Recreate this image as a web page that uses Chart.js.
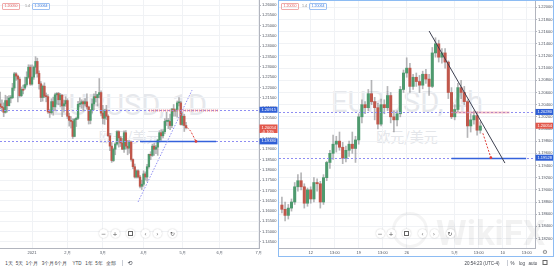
<!doctype html>
<html lang="zh">
<head>
  <meta charset="utf-8">
  <title>EURUSD 欧元/美元</title>
  <script src="https://cdn.jsdelivr.net/npm/chart.js"></script>
  <style>
    body { margin: 0; background: #fff; font-family: "Liberation Sans", Arial, sans-serif; }
    #root { position: relative; width: 554px; height: 270px; overflow: hidden; background: #fff; }
    #root > * { position: absolute; }
    canvas { z-index: 1; }
    .wm { z-index: 0; font-family: Roboto, sans-serif; font-size: 29px; line-height: 29px; color: #e6e8ec; text-align: center; white-space: nowrap; }
    .wm2 { z-index: 0; font-family: "Noto Sans CJK SC", sans-serif; font-size: 14px; line-height: 14px; color: #e4e6ea; text-align: center; white-space: nowrap; }
    .tag { z-index: 2; height: 5px; line-height: 5px; font-size: 3.6px; padding: 0 1.5px; border-radius: 1px; }
    .tag.sell { color: #e05a5a; border: 0.6px solid #f0aaaa; }
    .tag.buy { color: #3a7be0; border: 0.6px solid #9cc0f2; }
    .spread { z-index: 2; font-size: 3.6px; color: #888; line-height: 6px; }
    .btn { z-index: 3; width: 9px; height: 9px; border-radius: 50%; background: #fff; box-shadow: 0 0 1.5px rgba(0,0,0,0.25); color: #555; font-size: 6px; line-height: 9px; text-align: center; font-family: "DejaVu Sans", sans-serif; }
    .sq { display: inline-block; width: 3px; height: 3px; border: 0.6px dashed #666; vertical-align: middle; margin-top: -1px; }
    .tb { z-index: 2; font-size: 4.5px; line-height: 5px; color: #3b3f48; transform: translateX(-50%); white-space: nowrap; }
    .sep { z-index: 2; width: 0.6px; height: 6px; background: #c8ccd4; }
    #pane { z-index: 3; border: 1px solid #8dbcf3; box-sizing: border-box; pointer-events: none; }
    #wfx { z-index: 2; font-family: Roboto, sans-serif; font-weight: 700; font-size: 35px; line-height: 35px; color: rgba(0,0,0,0.05); }
    #wfxlogo { z-index: 2; width: 36px; height: 36px; border-radius: 50%; border: 3px solid rgba(0,0,0,0.045); box-sizing: border-box; }
  </style>
</head>
<body>
<div id="root">
  <div class="wm" style="left:0;top:91px;width:259px">EURUSD, 1D</div>
  <div class="wm2" style="left:0;top:129px;width:259px">欧元/美元</div>
  <div class="wm" style="left:279px;top:88px;width:256px">EURUSD, 4h</div>
  <div class="wm2" style="left:279px;top:129px;width:256px">欧元/美元</div>

  <canvas id="leftChart" width="278" height="260" style="left:0;top:0"></canvas>
  <canvas id="rightChart" width="275" height="260" style="left:279px;top:0"></canvas>

  <div id="wfxlogo" style="left:392px;top:212px"></div>
  <div id="wfx" style="left:436px;top:216px">WikiFX</div>

  <!-- sell / buy tags -->
  <div class="tag sell" style="left:2px;top:3px">1.20050</div>
  <div class="spread" style="left:25px;top:2.5px">1.4</div>
  <div class="tag buy" style="left:32px;top:3px">1.20064</div>
  <div class="tag sell" style="left:281px;top:3px">1.20050</div>
  <div class="spread" style="left:302px;top:2.5px">1.4</div>
  <div class="tag buy" style="left:309px;top:3px">1.20064</div>

  <!-- chart nav buttons -->
  <div class="btn" style="left:99px;top:228.5px">−</div>
  <div class="btn" style="left:110.5px;top:228.5px">+</div>
  <div class="btn" style="left:126px;top:228.5px"><span class="sq"></span></div>
  <div class="btn" style="left:141px;top:228.5px">‹</div>
  <div class="btn" style="left:153px;top:228.5px">›</div>
  <div class="btn" style="left:168px;top:228.5px">↻</div>
  <div class="btn" style="left:375.5px;top:228.5px">−</div>
  <div class="btn" style="left:386.5px;top:228.5px">+</div>
  <div class="btn" style="left:402px;top:228.5px"><span class="sq"></span></div>
  <div class="btn" style="left:418px;top:228.5px">‹</div>
  <div class="btn" style="left:429.5px;top:228.5px">›</div>
  <div class="btn" style="left:445.5px;top:228.5px">↻</div>

  <div id="pane" style="left:278px;top:0;width:276px;height:257px"></div>
  <div class="tb" style="left:545px;top:248.5px;color:#777;font-family:'DejaVu Sans';font-size:6px;line-height:6px">⚙</div>

  <!-- bottom toolbar -->
  <div class="tb" style="left:9px;top:260.5px">1天</div>
  <div class="tb" style="left:19.5px;top:260.5px">5天</div>
  <div class="tb" style="left:32px;top:260.5px">1个月</div>
  <div class="tb" style="left:48px;top:260.5px">3个月</div>
  <div class="tb" style="left:61px;top:260.5px">6个月</div>
  <div class="tb" style="left:77px;top:260.5px">YTD</div>
  <div class="tb" style="left:89px;top:260.5px">1年</div>
  <div class="tb" style="left:99px;top:260.5px">5年</div>
  <div class="tb" style="left:111px;top:260.5px">全部</div>
  <div class="sep" style="left:122px;top:260px"></div>
  <div class="tb" style="left:130px;top:259.5px;font-family:'DejaVu Sans';font-size:6px;line-height:6px">⟲</div>
  <div class="tb" style="left:482px;top:260.5px">20:54:23 (UTC-4)</div>
  <div class="sep" style="left:507px;top:260px"></div>
  <div class="tb" style="left:512.5px;top:260.5px">%</div>
  <div class="tb" style="left:522px;top:260.5px">log</div>
  <div class="tb" style="left:533px;top:260.5px">auto</div>
  <div class="tb" style="left:545px;top:260.5px"><span class="sq" style="border-style:solid"></span></div>
</div>

<script>
// ---- left pane: EURUSD daily, 2020-12-07 .. 2021-05-05 (one candle per trading day)
const leftOpen = [
  1.2120, 1.2107, 1.2102, 1.2079, 1.2136, 1.2111, 1.2148, 1.2150, 1.2197, 1.2266, 1.2255, 1.2240, 1.2160, 1.2190, 1.2197, 1.2214, 1.2249, 1.2298,
  1.2216, 1.2250, 1.2298, 1.2326, 1.2268, 1.2218, 1.2151, 1.2206, 1.2157, 1.2155, 1.2081, 1.2077, 1.2131, 1.2106, 1.2164, 1.2170, 1.2140, 1.2162, 1.2110, 1.2120,
  1.2136, 1.2060, 1.2040, 1.2035, 1.1962, 1.2044, 1.2050, 1.2118, 1.2120, 1.2130, 1.2120, 1.2130, 1.2105, 1.2040, 1.2090, 1.2120, 1.2155, 1.2150, 1.2165, 1.2175,
  1.2075, 1.2050, 1.2090, 1.2060, 1.1965, 1.1915, 1.1845, 1.1900, 1.1925, 1.1985, 1.1955, 1.1930, 1.1900, 1.1980, 1.1915, 1.1905, 1.1935, 1.1850, 1.1815, 1.1765, 1.1795, 1.1765, 1.1720,
  1.1730, 1.1780, 1.1765, 1.1815, 1.1875, 1.1870, 1.1915, 1.1900, 1.1910, 1.1945, 1.1980, 1.1965, 1.1985, 1.2035, 1.2035, 1.2035, 1.2015, 1.2095, 1.2085, 1.2090, 1.2125, 1.2125,
  1.2020, 1.2060, 1.2015
];
const leftHigh = [
  1.2177, 1.2140, 1.2125, 1.2162, 1.2156, 1.2160, 1.2161, 1.2220, 1.2273, 1.2272, 1.2260, 1.2250, 1.2202, 1.2211, 1.2250, 1.2276, 1.2310, 1.2309,
  1.2310, 1.2304, 1.2349, 1.2342, 1.2280, 1.2228, 1.2212, 1.2222, 1.2173, 1.2165, 1.2093, 1.2145, 1.2153, 1.2172, 1.2175, 1.2176, 1.2171, 1.2165, 1.2139, 1.2155,
  1.2145, 1.2075, 1.2058, 1.2048, 1.2050, 1.2056, 1.2133, 1.2149, 1.2140, 1.2135, 1.2146, 1.2169, 1.2109, 1.2093, 1.2144, 1.2169, 1.2181, 1.2167, 1.2243, 1.2183,
  1.2113, 1.2093, 1.2113, 1.2067, 1.1977, 1.1932, 1.1906, 1.1931, 1.1990, 1.1990, 1.1963, 1.1952, 1.1989, 1.1990, 1.1943, 1.1943, 1.1940, 1.1853, 1.1828, 1.1800, 1.1800, 1.1773, 1.1750,
  1.1795, 1.1790, 1.1826, 1.1876, 1.1888, 1.1925, 1.1928, 1.1920, 1.1947, 1.1990, 1.1995, 1.1995, 1.2048, 1.2080, 1.2049, 1.2070, 1.2097, 1.2117, 1.2095, 1.2134, 1.2150, 1.2132,
  1.2080, 1.2070, 1.2030
];
const leftLow = [
  1.2095, 1.2083, 1.2058, 1.2075, 1.2080, 1.2110, 1.2125, 1.2145, 1.2185, 1.2234, 1.2130, 1.2153, 1.2155, 1.2168, 1.2190, 1.2206, 1.2244, 1.2210,
  1.2211, 1.2239, 1.2265, 1.2250, 1.2192, 1.2131, 1.2133, 1.2150, 1.2130, 1.2074, 1.2054, 1.2070, 1.2065, 1.2087, 1.2118, 1.2116, 1.2105, 1.2058, 1.2080, 1.2108,
  1.2048, 1.2012, 1.2003, 1.1952, 1.1960, 1.2010, 1.2045, 1.2105, 1.2099, 1.2085, 1.2110, 1.2094, 1.2022, 1.2023, 1.2075, 1.2091, 1.2129, 1.2110, 1.2149, 1.2062,
  1.2023, 1.2020, 1.2044, 1.1962, 1.1893, 1.1836, 1.1840, 1.1873, 1.1920, 1.1910, 1.1913, 1.1898, 1.1884, 1.1900, 1.1873, 1.1880, 1.1842, 1.1805, 1.1760, 1.1760, 1.1760, 1.1712, 1.1704,
  1.1720, 1.1750, 1.1745, 1.1808, 1.1849, 1.1865, 1.1870, 1.1878, 1.1870, 1.1935, 1.1943, 1.1955, 1.1975, 1.2015, 1.2000, 1.1995, 1.2005, 1.2060, 1.2060, 1.2055, 1.2110, 1.2017,
  1.2015, 1.1986, 1.1998
];
const leftClose = [
  1.2107, 1.2102, 1.2079, 1.2136, 1.2111, 1.2148, 1.2150, 1.2197, 1.2266, 1.2255, 1.2240, 1.2160, 1.2190, 1.2186, 1.2214, 1.2249, 1.2298, 1.2216,
  1.2250, 1.2298, 1.2326, 1.2268, 1.2218, 1.2151, 1.2206, 1.2157, 1.2155, 1.2081, 1.2077, 1.2131, 1.2106, 1.2164, 1.2170, 1.2140, 1.2162, 1.2110, 1.2120, 1.2136,
  1.2060, 1.2040, 1.2035, 1.1962, 1.2044, 1.2050, 1.2118, 1.2120, 1.2130, 1.2120, 1.2130, 1.2105, 1.2040, 1.2090, 1.2120, 1.2155, 1.2150, 1.2165, 1.2175, 1.2075,
  1.2050, 1.2090, 1.2060, 1.1965, 1.1915, 1.1845, 1.1900, 1.1925, 1.1985, 1.1955, 1.1930, 1.1900, 1.1980, 1.1915, 1.1905, 1.1935, 1.1850, 1.1815, 1.1765, 1.1795, 1.1765, 1.1720, 1.1730,
  1.1780, 1.1765, 1.1815, 1.1875, 1.1870, 1.1915, 1.1900, 1.1910, 1.1945, 1.1980, 1.1965, 1.1985, 1.2035, 1.2035, 1.2035, 1.2015, 1.2095, 1.2085, 1.2090, 1.2125, 1.2125, 1.2020,
  1.2060, 1.2015, 1.2005
];
const leftXTicks = [18, 38, 58, 81, 103, 124, 146];
const leftXLabels = ['2021', '2月', '3月', '4月', '5月', '6月', '7月'];

// ---- right pane: EURUSD, 2021-04-07 .. 2021-05-05, three candles per day
const rightOpen = [
  1.1875, 1.1868, 1.1858, 1.1870, 1.1880, 1.1905, 1.1915, 1.1905, 1.1878, 1.1900, 1.1885, 1.1912, 1.1910, 1.1880, 1.1920,
  1.1945, 1.1960, 1.1975, 1.1980, 1.1970, 1.1952, 1.1965, 1.1975, 1.1968, 1.1982, 1.2020, 1.2040, 1.2035, 1.2058, 1.2045,
  1.2035, 1.2008, 1.2040, 1.2035, 1.2055, 1.2020, 1.2015, 1.2025, 1.2065, 1.2092, 1.2100, 1.2070, 1.2085, 1.2078, 1.2072,
  1.2090, 1.2082, 1.2070, 1.2125, 1.2140, 1.2118, 1.2125, 1.2110, 1.2060, 1.2020, 1.2032, 1.2068, 1.2060, 1.2045, 1.2005,
  1.2015, 1.2022, 1.1998
];
const rightHigh = [
  1.1888, 1.1880, 1.1876, 1.1885, 1.1912, 1.1925, 1.1928, 1.1910, 1.1903, 1.1905, 1.1920, 1.1918, 1.1914, 1.1925, 1.1947,
  1.1965, 1.1990, 1.1988, 1.1995, 1.1978, 1.1972, 1.1980, 1.1995, 1.1988, 1.2025, 1.2048, 1.2045, 1.2065, 1.2080, 1.2052,
  1.2042, 1.2049, 1.2048, 1.2070, 1.2060, 1.2030, 1.2030, 1.2070, 1.2097, 1.2117, 1.2108, 1.2090, 1.2092, 1.2088, 1.2095,
  1.2098, 1.2090, 1.2134, 1.2150, 1.2146, 1.2132, 1.2132, 1.2112, 1.2068, 1.2040, 1.2075, 1.2080, 1.2070, 1.2048, 1.2025,
  1.2030, 1.2028, 1.2012
];
const rightLow = [
  1.1862, 1.1849, 1.1852, 1.1865, 1.1876, 1.1898, 1.1900, 1.1870, 1.1873, 1.1878, 1.1880, 1.1898, 1.1870, 1.1876, 1.1915,
  1.1935, 1.1950, 1.1962, 1.1965, 1.1943, 1.1946, 1.1955, 1.1960, 1.1945, 1.1975, 1.2010, 1.2025, 1.2030, 1.2040, 1.2015,
  1.2000, 1.2005, 1.2025, 1.2030, 1.2010, 1.1995, 1.2005, 1.2020, 1.2060, 1.2085, 1.2060, 1.2065, 1.2070, 1.2060, 1.2066,
  1.2075, 1.2055, 1.2068, 1.2118, 1.2110, 1.2108, 1.2100, 1.2050, 1.2017, 1.2015, 1.2028, 1.2050, 1.2040, 1.1986, 1.1995,
  1.2008, 1.1990, 1.1993
];
const rightClose = [
  1.1868, 1.1858, 1.1870, 1.1880, 1.1905, 1.1915, 1.1905, 1.1878, 1.1900, 1.1885, 1.1912, 1.1910, 1.1880, 1.1920, 1.1945,
  1.1960, 1.1975, 1.1980, 1.1970, 1.1952, 1.1965, 1.1975, 1.1968, 1.1982, 1.2020, 1.2040, 1.2035, 1.2058, 1.2045, 1.2035,
  1.2008, 1.2040, 1.2035, 1.2055, 1.2020, 1.2015, 1.2025, 1.2065, 1.2092, 1.2100, 1.2070, 1.2085, 1.2078, 1.2072, 1.2090,
  1.2082, 1.2070, 1.2125, 1.2140, 1.2118, 1.2125, 1.2110, 1.2060, 1.2020, 1.2032, 1.2068, 1.2060, 1.2045, 1.2005, 1.2015,
  1.2022, 1.1998, 1.2005
];
const rightXTicks = [9, 16.5, 24, 31.5, 39, 54, 61.5, 69, 76.5];
const rightXLabels = ['12', '13:00', '19', '13:00', '26', '5月', '13:00', '10', '13:00'];

// drawn levels (price) and the drawings on each pane, in bar index / price units
const leftLevels = [1.20915, 1.19380];
const rightLevels = [1.20280, 1.19528];
const lastPrice = 1.20054;
const leftTrend = [[77.9, 1.1644], [108.4, 1.2187]];
const leftForecast = [[105.5, 1.2006], [107.6, 1.1988], [110.6, 1.1938]];
const rightTrend = [[46, 1.2161], [69.7, 1.1944]];
const rightForecast = [[62.8, 1.1993], [65.3, 1.19528]];

const UP = '#4e9a6e', DOWN = '#c0574b', WICK = 'rgba(120,120,124,0.55)';
const GRID = '#f0f2f5', AXIS = '#b2b5be', TXT = '#4c525e';
const TICK_FONT = {family: '"Liberation Sans", Arial, sans-serif', size: 4};
const LVL_DOT = '#8e8ef2', LVL_RED = 'rgba(238,118,128,0.85)', LVL_BLUE = '#3562dc';

function candleSets(o, h, l, c, bodyW) {
  const colors = o.map((v, i) => c[i] >= v ? UP : DOWN);
  return [
    {data: o.map((v, i) => ({x: i, y: [l[i], h[i]]})), backgroundColor: WICK, barThickness: 1, grouped: false, order: 2},
    {data: o.map((v, i) => ({x: i, y: [v, c[i]]})), backgroundColor: colors, barThickness: bodyW, minBarLength: 1, grouped: false, order: 1}
  ];
}

// lines, forecast arrows and price labels, all placed through the chart scales
const overlay = {
  id: 'overlay',
  afterDatasetsDraw(chart, args, opts) {
    const {ctx, chartArea: a, scales: {x, y}} = chart;
    ctx.save();
    ctx.beginPath();
    ctx.rect(a.left, a.top, a.right - a.left, a.bottom - a.top);
    ctx.clip();
    opts.hlines.forEach(h => {
      const py = Math.round(y.getPixelForValue(h.value)) + 0.5;
      ctx.setLineDash(h.dash || []);
      ctx.strokeStyle = h.color;
      ctx.lineWidth = h.width || 1;
      ctx.beginPath();
      ctx.moveTo(h.from != null ? x.getPixelForValue(h.from) : a.left, py);
      ctx.lineTo(h.to != null ? x.getPixelForValue(h.to) : a.right, py);
      ctx.stroke();
    });
    opts.paths.forEach(p => {
      ctx.setLineDash(p.dash || []);
      ctx.strokeStyle = p.color;
      ctx.lineWidth = p.width || 1;
      ctx.beginPath();
      p.pts.forEach((pt, i) => {
        const px = x.getPixelForValue(pt[0]), py = y.getPixelForValue(pt[1]);
        if (i) ctx.lineTo(px, py); else ctx.moveTo(px, py);
      });
      ctx.stroke();
      if (p.dot) {
        const e = p.pts[p.pts.length - 1];
        ctx.fillStyle = p.color;
        ctx.beginPath();
        ctx.arc(x.getPixelForValue(e[0]), y.getPixelForValue(e[1]), 1.4, 0, Math.PI * 2);
        ctx.fill();
      }
    });
    ctx.restore();
  },
  afterDraw(chart, args, opts) {
    const {ctx, chartArea: a, scales: {y}} = chart;
    ctx.save();
    ctx.font = '4px "Liberation Sans", Arial, sans-serif';
    ctx.textBaseline = 'middle';
    opts.labels.forEach(l => {
      const py = y.getPixelForValue(l.value);
      const h = l.lines.length > 1 ? 8.5 : 6;
      ctx.fillStyle = l.bg;
      ctx.fillRect(a.right + 0.5, py - 3, chart.width - a.right - 1, h);
      ctx.fillStyle = '#fff';
      l.lines.forEach((t, i) => ctx.fillText(t, a.right + 2.5, py + i * 4));
    });
    ctx.restore();
  }
};

function makeChart(id, sets, o) {
  return new Chart(document.getElementById(id), {
    type: 'bar',
    data: {datasets: sets},
    plugins: [overlay],
    options: {
      responsive: false,
      animation: false,
      events: [],
      layout: {padding: 0},
      plugins: {legend: {display: false}, tooltip: {enabled: false}, overlay: o.overlay},
      scales: {
        x: {
          type: 'linear', min: o.xMin, max: o.xMax, offset: false,
          grid: {color: GRID, drawTicks: false, offset: false},
          border: {color: AXIS},
          ticks: {font: TICK_FONT, color: TXT, padding: 2, maxRotation: 0, autoSkip: false,
            callback: v => o.xLabels[o.xTicks.indexOf(v)] || ''},
          afterBuildTicks: s => { s.ticks = o.xTicks.map(v => ({value: v})); },
          afterFit: s => { s.height = 12; s.paddingLeft = 0; s.paddingRight = 0; }
        },
        y: {
          position: 'right', min: o.yMin, max: o.yMax,
          grid: {color: GRID, tickLength: 2, tickColor: AXIS},
          border: {color: AXIS},
          ticks: {font: TICK_FONT, color: TXT, padding: 1, stepSize: o.yStep, callback: v => v.toFixed(5)},
          afterBuildTicks: s => {
            s.ticks = s.ticks.filter(t => Math.abs(t.value / o.yStep - Math.round(t.value / o.yStep)) < 1e-6);
          },
          afterFit: s => { s.width = 19; s.paddingTop = 0; s.paddingBottom = 0; }
        }
      }
    }
  });
}

makeChart('leftChart', candleSets(leftOpen, leftHigh, leftLow, leftClose, 1.7), {
  xMin: -0.08, xMax: 146.2, yMin: 1.14204, yMax: 1.26243, yStep: 0.005,
  xTicks: leftXTicks, xLabels: leftXLabels,
  overlay: {
    hlines: [
      {value: leftLevels[0], color: LVL_DOT, dash: [2, 2]},
      {value: leftLevels[1], color: LVL_DOT, dash: [2, 2]},
      {value: leftLevels[0], color: LVL_RED, dash: [1, 1], width: 2, from: 84, to: 123},
      {value: leftLevels[1], color: LVL_BLUE, width: 1.5, from: 79, to: 122}
    ],
    paths: [
      {pts: leftTrend, color: LVL_DOT, dash: [1.5, 1.5]},
      {pts: leftForecast, color: '#e0403a', dash: [2, 1.5], dot: true}
    ],
    labels: [
      {value: leftLevels[0], bg: '#2f5fd6', lines: ['1.20915']},
      {value: lastPrice, bg: '#e2584c', lines: ['1.20054', '-0.10%']},
      {value: leftLevels[1], bg: '#2f5fd6', lines: ['1.19380']}
    ]
  }
});

makeChart('rightChart', candleSets(rightOpen, rightHigh, rightLow, rightClose, 2.4), {
  xMin: -0.906, xMax: 79.094, yMin: 1.18044, yMax: 1.22120, yStep: 0.002,
  xTicks: rightXTicks, xLabels: rightXLabels,
  overlay: {
    hlines: [
      {value: rightLevels[0], color: LVL_DOT, dash: [2, 2]},
      {value: rightLevels[1], color: LVL_DOT, dash: [2, 2]},
      {value: rightLevels[0], color: LVL_RED, dash: [1, 1], width: 2, from: 53, to: 71.2},
      {value: rightLevels[1], color: LVL_BLUE, width: 1.5, from: 53, to: 76.3}
    ],
    paths: [
      {pts: rightTrend, color: '#3c3f4f', width: 1},
      {pts: rightForecast, color: '#e0403a', dash: [2, 1.5], dot: true}
    ],
    labels: [
      {value: rightLevels[0], bg: '#2f5fd6', lines: ['1.20280']},
      {value: lastPrice, bg: '#e2584c', lines: ['1.20054']},
      {value: rightLevels[1], bg: '#2f5fd6', lines: ['1.19528']}
    ]
  }
});
</script>
</body>
</html>
